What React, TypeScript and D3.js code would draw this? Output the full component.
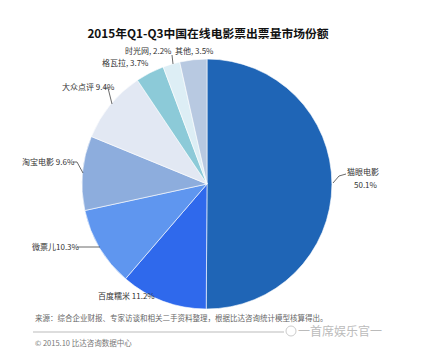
import React from "react";
import * as d3 from "d3";

const names = ["猫眼电影", "百度糯米", "微票儿", "淘宝电影", "大众点评", "格瓦拉", "时光网", "其他"];
const shares = [50.1, 11.2, 10.3, 9.6, 9.4, 3.7, 2.2, 3.5];
const colors = ["#1f65b6", "#2f69ec", "#5f96ef", "#8daddd", "#e2e8f3", "#8ccad8", "#ddeef5", "#b8c9e1"];
const labelTexts = ["猫眼电影", "百度糯米 11.2%", "微票儿10.3%", "淘宝电影 9.6%", "大众点评 9.4%", "格瓦拉, 3.7%", "时光网, 2.2%", "其他, 3.5%"];

const W = 432, H = 356;
const cx = 207, cy = 184, R = 125;

export default function App() {
  const pie = d3.pie<number>().sort(null).value((d) => d)(shares);
  const arc = d3.arc<d3.PieArcDatum<number>>().innerRadius(0).outerRadius(R);
  const font = "'Noto Sans CJK SC', 'Noto Sans', sans-serif";
  const lbl = { fontSize: 8, fill: "#333", fontFamily: font } as const;
  return (
    <svg width={W} height={H} style={{ position: "absolute", left: 0, top: 0 }}>
      <rect width={W} height={H} fill="#fff" />
      <text x={208} y={38} textAnchor="middle" fontSize={11.8} fontWeight="bold" fill="#111" fontFamily={font}>
        2015年Q1-Q3中国在线电影票出票量市场份额
      </text>
      <g transform={`translate(${cx},${cy})`}>
        {pie.map((p, i) => (
          <path key={names[i]} d={arc(p) || ""} fill={colors[i]} stroke="#fff" strokeWidth={0.6} />
        ))}
      </g>
      {/* leader lines */}
      <g stroke="#444" strokeWidth={0.8} fill="none">
        <polyline points="333,183 339,176 346,174" />
        <polyline points="77,247 100,247" />
        <polyline points="73,162 77,162 83,173" />
        <polyline points="104,88 108,88 112,104" />
        <polyline points="172,55 173,64" />
      </g>
      <text x={347} y={175} {...lbl}>{labelTexts[0]}</text>
      <text x={354} y={188} {...lbl}>{shares[0].toFixed(1)}%</text>
      <text x={98} y={299} {...lbl}>{labelTexts[1]}</text>
      <text x={32} y={250} {...lbl}>{labelTexts[2]}</text>
      <text x={22} y={165} {...lbl}>{labelTexts[3]}</text>
      <text x={62} y={90} {...lbl}>{labelTexts[4]}</text>
      <text x={102} y={66} {...lbl}>{labelTexts[5]}</text>
      <text x={125} y={54} {...lbl}>{labelTexts[6]}</text>
      <text x={175} y={54} {...lbl}>{labelTexts[7]}</text>
      {/* footer */}
      <text x={35} y={321} fontSize={7.5} fill="#666" fontFamily={font}>
        来源：综合企业财报、专家访谈和相关二手资料整理，根据比达咨询统计模型核算得出。
      </text>
      <line x1={33} x2={284} y1={332} y2={332} stroke="#bbb" strokeWidth={1} />
      <text x={35} y={346} fontSize={7.5} fill="#777" fontFamily={font}>© 2015.10 比达咨询数据中心</text>
      <circle cx={291} cy={331} r={5} fill="none" stroke="#ccc" strokeWidth={1} />
      <text x={298} y={336} fontSize={12} fill="#bbb" fontFamily={font}>一首席娱乐官一</text>
    </svg>
  );
}
